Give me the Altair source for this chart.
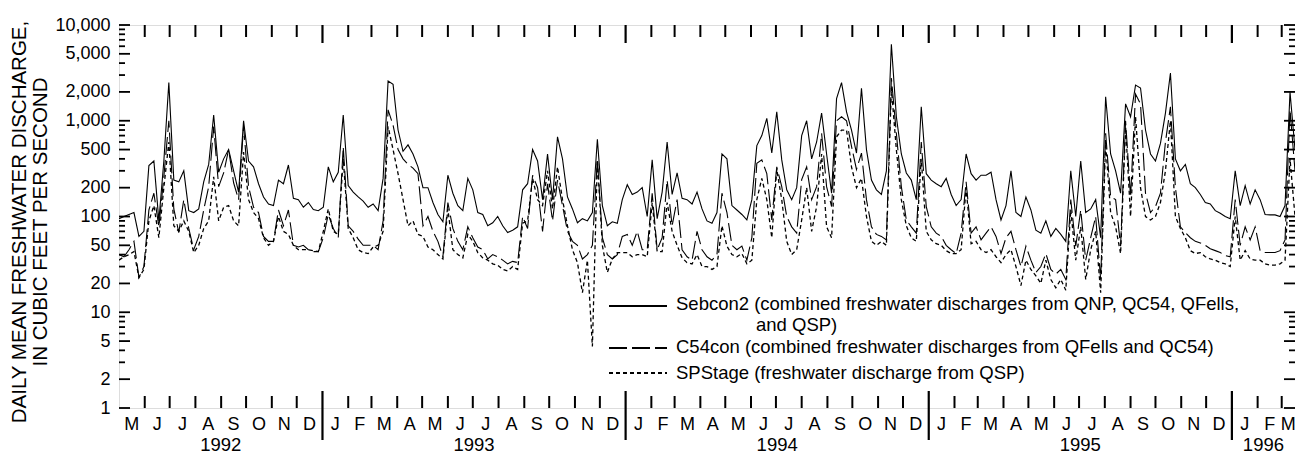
import altair as alt
import pandas as pd

FONT = "Liberation Sans"
DOMAIN_START = "1992-05-01"
STEP_DAYS = 6  # readings taken every 6 days from the start of the record

# Daily mean discharge readings (cubic feet per second), one every 6 days
SEBCON2 = [
    95, 100, 105, 110, 62, 70, 340, 380, 90, 380,
    2500, 240, 230, 300, 115, 110, 120, 230, 350, 1150,
    290, 400, 500, 300, 180, 1000, 380, 330, 220, 160,
    135, 130, 240, 220, 345, 155, 150, 125, 140, 118,
    115, 125, 330, 230, 290, 1150, 210, 180, 160, 145,
    125, 135, 115, 250, 2600, 2400, 800, 480, 560, 450,
    330, 200, 200, 140, 105, 88, 270, 175, 130, 115,
    250, 190, 110, 105, 80, 86, 100, 80, 68, 72,
    78, 190, 220, 500, 380, 150, 450, 150, 680, 400,
    160, 120, 86, 95, 90, 110, 640, 130, 80, 88,
    85, 150, 215, 170, 180, 200, 100, 390, 95, 180,
    600, 170, 285, 155, 150, 135, 180, 120, 90, 85,
    110, 450, 400, 130, 117, 105, 92, 150, 550, 700,
    1060, 460, 1240, 390, 190, 150, 200, 700, 1000, 400,
    600, 1200, 450, 175, 1700, 2500, 1240, 800, 460, 2180,
    500, 240, 190, 170, 300, 6300, 1100, 450, 285, 240,
    150, 1400, 280, 240, 220, 205, 250, 170, 130, 150,
    450, 280, 240, 270, 270, 290, 150, 92, 130, 300,
    110, 100, 160, 117, 72, 67, 90, 62, 75, 65,
    55, 300, 100, 380, 110, 120, 150, 60, 1780, 450,
    300, 175, 1500, 1100, 2360, 2200, 800, 450, 380, 580,
    1200, 3150, 400, 300, 350, 220, 200, 170, 140, 135,
    115, 108, 100, 95, 300, 130, 210, 135, 190, 150,
    105, 104, 104, 100, 130, 2000, 500,
]
C54CON = [
    40, 38, 45, 55, 23, 30, 117, 175, 78, 260,
    1000, 120, 68, 150, 75, 45, 62, 117, 205, 870,
    205, 285, 500, 225, 150, 870, 205, 125, 110, 62,
    55, 55, 117, 80, 117, 50, 48, 50, 45, 43,
    43, 60, 105, 75, 60, 535, 80, 70, 58, 50,
    50, 50, 45, 90, 1300, 900, 500, 400, 350, 320,
    280, 80, 100, 70, 55, 38, 140, 75, 55, 45,
    78, 60, 48, 45, 36, 40, 38, 35, 32, 34,
    33, 100, 75, 270, 200, 70, 220, 90, 240, 130,
    70, 55, 50, 36, 40, 50, 400, 60, 40, 36,
    40, 62, 65, 50, 70, 45, 45, 175, 45, 60,
    240, 80, 150, 45, 38, 35, 70, 45, 38, 35,
    40, 175, 110, 50, 45, 49, 35, 60, 360, 390,
    280, 92, 330, 205, 100, 78, 67, 243, 330, 150,
    205, 740, 205, 127, 1000, 1100, 1000, 540, 310, 460,
    150, 78, 65, 62, 57, 2800, 740, 205, 92, 78,
    67, 600, 127, 78, 67, 62, 50, 45, 41, 67,
    230, 67, 78, 57, 67, 78, 62, 41, 60, 70,
    45, 30, 49, 35, 26, 30, 41, 28, 25, 28,
    22, 150, 49, 117, 35, 60, 100, 22, 740, 160,
    150, 49, 1000, 160, 1900, 1500, 175, 110, 127, 175,
    600, 1400, 200, 78, 68, 60, 55, 53, 50, 46,
    44, 42, 39, 38, 150, 50, 78, 57, 78, 44,
    42, 42, 42, 44, 57, 1300, 300,
]
SPSTAGE = [
    35, 38, 40, 43, 23, 28, 90, 130, 60, 200,
    600, 80, 70, 90, 70, 42, 50, 75, 90, 260,
    90, 125, 130, 90, 80, 470, 150, 110, 95, 60,
    50, 55, 100, 70, 65, 50, 45, 45, 45, 44,
    43, 70, 120, 70, 65, 400, 75, 60, 45, 42,
    41, 48, 50, 70, 870, 500, 280, 150, 80, 90,
    65, 62, 48, 45, 40, 36, 120, 45, 40, 37,
    65, 55, 42, 37, 35, 32, 31, 28, 27, 30,
    28, 85, 90, 250, 150, 130, 300, 120, 330, 150,
    80, 45, 33, 16, 35, 4.4, 390, 50, 26, 36,
    42, 42, 42, 38, 40, 40, 38, 140, 43, 43,
    140, 70, 50, 37, 33, 32, 40, 30, 30, 28,
    30, 80, 49, 40, 38, 41, 32, 35, 150, 250,
    150, 60, 310, 150, 55, 40, 45, 92, 200, 70,
    127, 450, 78, 60, 680, 800, 800, 330, 200, 250,
    100, 55, 50, 55, 50, 2200, 500, 150, 80, 60,
    55, 400, 70, 57, 52, 50, 44, 41, 41, 45,
    200, 52, 55, 45, 42, 45, 38, 33, 40, 45,
    30, 19, 35, 28, 24, 20, 35, 22, 18, 22,
    17, 117, 35, 78, 22, 45, 70, 16, 580, 110,
    78, 41, 870, 100, 1100, 200, 100, 92, 100, 140,
    300, 1000, 100, 75, 60, 44, 41, 42, 38, 36,
    35, 33, 32, 30, 100, 35, 44, 36, 35, 35,
    32, 31, 31, 32, 35, 400, 100,
]

MAJOR_TICKS = [1, 2, 5, 10, 20, 50, 100, 200, 500, 1000, 2000, 5000, 10000]
MINOR_TICKS = [3, 4, 6, 7, 8, 9, 30, 40, 60, 70, 80, 90,
               300, 400, 600, 700, 800, 900, 3000, 4000, 6000, 7000, 8000, 9000]
MONTH_LETTERS = ["J", "F", "M", "A", "M", "J", "J", "A", "S", "O", "N", "D"]
YEARS = [1992, 1993, 1994, 1995, 1996]
TITLE_LINE1 = "DAILY MEAN FRESHWATER DISCHARGE,"
TITLE_LINE2 = "IN CUBIC FEET PER SECOND"
LEGEND_1A = "Sebcon2 (combined freshwater discharges from QNP, QC54, QFells,"
LEGEND_1B = "and QSP)"
LEGEND_2 = "C54con (combined freshwater discharges from QFells and QC54)"
LEGEND_3 = "SPStage (freshwater discharge from QSP)"

W, H = 1176, 383

d0 = pd.Timestamp(DOMAIN_START)
d1 = pd.Timestamp("1996-03-17")
n = max(len(SEBCON2), len(C54CON), len(SPSTAGE))
dates = pd.date_range(DOMAIN_START, periods=n, freq=f"{STEP_DAYS}D")


def series_df(vals):
    return pd.DataFrame({"date": dates[: len(vals)], "value": vals})


x_scale = alt.Scale(domain=[alt.DateTime(year=1992, month=5, date=1),
                            alt.DateTime(year=1996, month=3, date=17)])
y_scale = alt.Scale(type="log", domain=[1, 10000])
y_axis = alt.Axis(values=MAJOR_TICKS, format=",", ticks=False, tickSize=0, domain=False,
                  grid=False, labelFont=FONT, labelFontSize=18, labelColor="black",
                  labelPadding=9, title=None)

X = alt.X("date:T", scale=x_scale, axis=None)
Y = alt.Y("value:Q", scale=y_scale, axis=y_axis)

solid = alt.Chart(series_df(SEBCON2)).mark_line(color="black", strokeWidth=1.1, clip=True).encode(x=X, y=Y)
dashed = alt.Chart(series_df(C54CON)).mark_line(color="black", strokeWidth=1.1, strokeDash=[18, 5], clip=True).encode(x=X, y=Y)
dotted = alt.Chart(series_df(SPSTAGE)).mark_line(color="black", strokeWidth=1.3, strokeDash=[4, 3], clip=True).encode(x=X, y=Y)

# y ticks (inward, both sides)
maj = pd.DataFrame({"value": MAJOR_TICKS})
mnr = pd.DataFrame({"value": MINOR_TICKS})
yt = []
for df_, ln in ((maj, 11), (mnr, 6)):
    yt.append(alt.Chart(df_).mark_rule(color="black", strokeWidth=1.8).encode(
        y=Y, x=alt.value(0), x2=alt.value(ln)))
    yt.append(alt.Chart(df_).mark_rule(color="black", strokeWidth=1.8).encode(
        y=Y, x=alt.value(W), x2=alt.value(W - ln)))

# x ticks
month_starts = pd.date_range("1992-06-01", "1996-03-01", freq="MS")
mt = pd.DataFrame({"date": [m for m in month_starts if m.month != 1]})
yr = pd.DataFrame({"date": [m for m in month_starts if m.month == 1]})
xt = [
    alt.Chart(mt).mark_rule(color="black", strokeWidth=2).encode(x=X, y=alt.value(H - 12), y2=alt.value(H)),
    alt.Chart(mt).mark_rule(color="black", strokeWidth=2).encode(x=X, y=alt.value(0), y2=alt.value(12)),
    alt.Chart(yr).mark_rule(color="black", strokeWidth=2.2).encode(x=X, y=alt.value(H - 17), y2=alt.value(H + 32)),
    alt.Chart(yr).mark_rule(color="black", strokeWidth=2.2).encode(x=X, y=alt.value(0), y2=alt.value(18)),
]

# month letters
rows = []
for m in pd.date_range("1992-05-01", "1996-03-01", freq="MS"):
    a = max(m, d0)
    b = min(m + pd.offsets.MonthBegin(1), d1)
    rows.append({"date": a + (b - a) / 2, "label": MONTH_LETTERS[m.month - 1]})
ml = pd.DataFrame(rows)
yrows = []
for y in YEARS:
    a = max(pd.Timestamp(f"{y}-01-01"), d0)
    b = min(pd.Timestamp(f"{y + 1}-01-01"), d1)
    yrows.append({"date": a + (b - a) / 2, "label": str(y)})
yl = pd.DataFrame(yrows)

txt = dict(font=FONT, color="black")
labels = [
    alt.Chart(ml).mark_text(fontSize=18, baseline="middle", align="center", **txt).encode(
        x=X, y=alt.value(H + 17), text="label:N"),
    alt.Chart(yl).mark_text(fontSize=18.5, baseline="middle", align="center", **txt).encode(
        x=X, y=alt.value(H + 37), text="label:N"),
]

one = pd.DataFrame({"a": [0]})


def text_at(s, x, y, size=18.5, align="left", angle=0):
    return alt.Chart(pd.DataFrame({"t": [s]})).mark_text(
        fontSize=size, baseline="middle", align=align, angle=angle, **txt).encode(
        x=alt.value(x), y=alt.value(y), text="t:N")


title = [
    text_at(TITLE_LINE1, -99, 197, size=20.5, align="center", angle=270),
    text_at(TITLE_LINE2, -78, 197, size=20.5, align="center", angle=270),
]

legend = [
    alt.Chart(one).mark_rule(color="black", strokeWidth=2).encode(x=alt.value(490), x2=alt.value(548), y=alt.value(281)),
    alt.Chart(one).mark_rule(color="black", strokeWidth=2, strokeDash=[18, 5]).encode(x=alt.value(490), x2=alt.value(548), y=alt.value(323)),
    alt.Chart(one).mark_rule(color="black", strokeWidth=2, strokeDash=[4, 3]).encode(x=alt.value(490), x2=alt.value(548), y=alt.value(348)),
    text_at(LEGEND_1A, 557, 279),
    text_at(LEGEND_1B, 637, 300),
    text_at(LEGEND_2, 557, 322),
    text_at(LEGEND_3, 557, 348),
]

chart = alt.layer(
    solid, dashed, dotted, *yt, *xt, *labels, *title, *legend
).properties(
    width=W, height=H,
    padding={"left": 111, "top": 17, "right": 0, "bottom": 48},
    autosize=alt.AutoSizeParams(type="none"),
).configure_view(stroke="black", strokeWidth=2).configure(background="white")

chart.save("out.html", embed_options={"renderer": "svg", "actions": False})
